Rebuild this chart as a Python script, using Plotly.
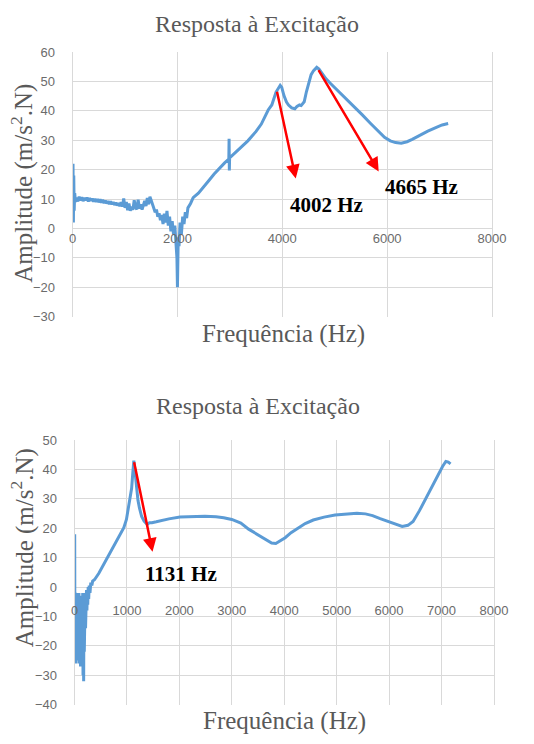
import plotly.graph_objects as go

# ---------------- data: top chart ----------------
freq_top = [0, 8, 15, 22, 30, 40, 55,
            75, 100, 125, 150, 175, 200, 225, 250, 275, 300, 325, 350, 375, 400,
            425, 450, 475, 500, 525, 550, 575, 600, 625, 650, 675, 700, 725, 750,
            775, 800, 825, 850, 875, 900, 925, 950, 975, 1000, 1025, 1050, 1075,
            1100, 1125, 1150, 1175, 1200, 1225, 1250, 1275, 1300, 1325, 1350, 1375,
            1400, 1425, 1450, 1475, 1500, 1525, 1550, 1575, 1600, 1625, 1650, 1675,
            1700, 1725, 1750, 1775, 1800, 1825, 1850, 1875, 1900, 1925, 1950, 1975,
            1990, 2000, 2005, 2015, 2030, 2050, 2075, 2100, 2125, 2150, 2175, 2200,
            2250, 2300, 2400, 2500, 2600, 2700, 2800, 2900, 2980, 2985, 2990, 2995,
            3100, 3200, 3343, 3500, 3600, 3731, 3800, 3881, 3960, 3990, 4030, 4080,
            4119, 4180, 4239, 4280, 4328, 4360, 4418, 4460, 4507, 4550, 4597, 4657,
            4700, 4746, 4830, 4925, 5080, 5224, 5380, 5522, 5680, 5821, 5950, 6060,
            6160, 6269, 6380, 6478, 6620, 6776, 6950, 7050, 7164]
amp_top = [3, 22, 2, 18, 6, 12, 9,
           10.5, 9.2, 10.8, 9.5, 10.6, 9.3, 10.4, 9.6, 10.5, 9.2, 10.3, 9.4, 10.2, 9.1,
           10.1, 9.0, 10.0, 8.9, 9.9, 8.8, 9.7, 8.6, 9.5, 8.5, 9.3, 8.3, 9.2, 8.2,
           9.0, 8.0, 8.8, 7.8, 8.6, 7.6, 8.9, 7.4, 10.2, 7.0, 9.0, 6.2, 8.5,
           6.0, 7.4, 6.3, 9.6, 7.2, 6.5, 9.8, 6.8, 8.2, 6.4, 8.0, 9.4,
           7.6, 10.4, 8.2, 10.8, 9.5, 8.0, 7.0, 5.5, 6.4, 4.0, 5.2, 2.8,
           4.6, 1.5, 5.0, 2.0, 6.0, 1.0, 4.0, -1.0, 2.5, -2.0, 1.0, -6.0,
           -10, -20, -12, -3, -6, 2, -2, 4, 1.5, 5.5, 3.5, 7.0,
           8.5, 10.5, 12.0, 14.0, 16.3, 18.5, 20.5, 22.3, 23.6, 30.5, 19.7, 24.0,
           25.7, 27.6, 29.8, 33.0, 35.5, 40.3, 42.0, 46.4, 48.7, 48.0, 45.3, 43.0,
           42.0, 41.0, 40.7, 41.5, 42.0, 41.8, 43.1, 46.5, 49.8, 52.3, 53.7, 54.8,
           54.2, 53.1, 51.0, 49.2, 46.5, 44.2, 41.3, 38.7, 35.8, 33.1, 31.0, 29.8,
           29.2, 29.0, 29.5, 30.3, 31.7, 33.1, 34.5, 35.2, 35.7]

# ---------------- data: bottom chart ----------------
freq_bot = [0, 3, 6, 10, 14, 18, 22, 26, 30, 35, 40, 45, 50, 55, 60, 66, 72, 78, 84,
            90, 96, 102, 108, 114, 120, 126, 132, 138, 144, 150, 156, 162, 168, 174,
            180, 186, 192, 198, 204, 210, 216, 222, 228, 236, 244, 252, 260, 270,
            280, 295, 310, 330, 345, 380, 464, 550, 643, 730, 821, 880, 940, 990,
            1030, 1060, 1089, 1110, 1131, 1150, 1179, 1210, 1238, 1280, 1327, 1387,
            1430, 1476, 1560, 1655, 1800, 2012, 2250, 2488, 2700, 2845, 3000, 3173,
            3321, 3482, 3661, 3760, 3839, 3920, 4018, 4130, 4256, 4400, 4554, 4760,
            4970, 5180, 5387, 5550, 5685, 5830, 5982, 6120, 6250, 6360, 6458, 6580,
            6696, 6820, 6935, 7020, 7083, 7130, 7173]
amp_bot = [0, 18, -8, -26, -2, -22, -4, -26, -3, -18, -2, -24, -3, -14, -2, -25, -3, -16, -2,
           -26, -4, -22, -3, -27, -4, -18, -3, -25, -3, -20, -2, -30, -3, -32,
           -4, -22, -3, -20, -2, -14, -2, -12, -1, -8, -1, -6, 0, -4,
           0.5, -2, 1.5, 0.5, 2.0, 2.5, 4.7, 7.5, 10.2, 13.0, 15.8, 18.0, 20.2, 23.0,
           26.9, 29.5, 33.6, 38.5, 43.0, 40.0, 34.7, 29.5, 26.9, 24.0, 22.4, 21.3,
           21.9, 21.9, 22.2, 22.7, 23.2, 23.8, 24.0, 24.1, 23.9, 23.6, 23.0, 21.8,
           19.7, 18.0, 16.1, 15.0, 14.8, 15.6, 16.8, 18.5, 20.0, 21.6, 22.8, 23.8,
           24.5, 24.9, 25.1, 24.9, 24.3, 23.3, 22.3, 21.2, 20.6, 21.0, 22.3, 26.0,
           30.1, 34.3, 38.0, 41.0, 42.7, 42.5, 41.9]

# peak labels and arrows (tail -> head), in data units
peaks_top = ["4002 Hz", "4665 Hz"]
arrow_tail_top = [(3893, 47), (4675, 54.4)]
arrow_head_top = [(4257, 17), (5839, 19.4)]
label_pos_top = [(4840, 8), (6650, 14)]

peaks_bot = ["1131 Hz"]
arrow_tail_bot = [(1131, 43)]
arrow_head_bot = [(1488, 12)]
label_pos_bot = [(2040, 4.3)]

title_text = "Resposta à Excitação"
xtitle = "Frequência (Hz)"
ytitle = "Amplitude (m/s<sup>2</sup>.N)"

xticks = [0, 2000, 4000, 6000, 8000]
xticks2 = [0, 1000, 2000, 3000, 4000, 5000, 6000, 7000, 8000]
yticks_top = [-30, -20, -10, 0, 10, 20, 30, 40, 50, 60]
yticks_bot = [-40, -30, -20, -10, 0, 10, 20, 30, 40, 50]

W, H = 534, 744
BLUE = "#5b9bd5"
GRID = "#d9d9d9"
TICKC = "#6b6b6b"
TXT = "#595959"
SERIF = "Liberation Serif"
SANS = "Liberation Sans"

def py(px):
    return 1 - px / H

fig = go.Figure()
fig.add_trace(go.Scatter(x=freq_top, y=amp_top, mode="lines",
                         line=dict(color=BLUE, width=3), xaxis="x", yaxis="y",
                         showlegend=False, hoverinfo="skip"))
fig.add_trace(go.Scatter(x=freq_bot, y=amp_bot, mode="lines",
                         line=dict(color=BLUE, width=3), xaxis="x2", yaxis="y2",
                         showlegend=False, hoverinfo="skip"))

tickfont = dict(family=SANS, size=13, color=TICKC)

xcommon = dict(range=[0, 8000], showgrid=True, gridcolor=GRID, gridwidth=1,
               zeroline=False, showline=False, tickfont=tickfont, ticks="",
               fixedrange=True)
ycommon = dict(showgrid=True, gridcolor=GRID, gridwidth=1, zeroline=True,
               zerolinecolor=GRID, zerolinewidth=1, showline=True, mirror=True,
               linecolor=GRID, linewidth=1, tickfont=tickfont, ticks="",
               ticklabelstandoff=14, fixedrange=True)

fig.update_layout(
    width=W, height=H, margin=dict(l=0, r=0, t=0, b=0),
    paper_bgcolor="white", plot_bgcolor="white",
    xaxis=dict(domain=[71 / W, 505 / W], anchor="free", position=py(227),
               tickvals=xticks, ticktext=[str(v) for v in xticks], **xcommon),
    yaxis=dict(domain=[py(316), py(46)], range=[-30, 60], tickvals=yticks_top,
               anchor="x", **ycommon),
    xaxis2=dict(domain=[73 / W, 507 / W], anchor="free", position=py(606),
                tickvals=xticks2, ticktext=[str(v) for v in xticks2], **xcommon),
    yaxis2=dict(domain=[py(712), py(442)], range=[-40, 50], tickvals=yticks_bot,
                anchor="x2", **ycommon),
)

ann = []

def txt(text, xpx, ypx, size, angle=0, color=TXT):
    ann.append(dict(text=text, x=xpx / W, y=py(ypx), xref="paper", yref="paper",
                    xanchor="center", yanchor="middle", textangle=angle,
                    showarrow=False, font=dict(family=SERIF, size=size, color=color)))

# titles
txt(title_text, 262, 17, 24)
txt(title_text, 263, 407, 24)
# x titles
txt(xtitle, 289, 334, 25)
txt(xtitle, 290, 729, 25)
# y titles
txt(ytitle, 19, 180, 25, angle=-90)
txt(ytitle, 20, 552, 25, angle=-90)

def add_arrows(tails, heads, labels, lpos, xr, yr):
    for (tx, ty), (hx, hy), lab, (lx, ly) in zip(tails, heads, labels, lpos):
        ann.append(dict(x=hx, y=hy, ax=tx, ay=ty, xref=xr, yref=yr, axref=xr, ayref=yr,
                        showarrow=True, arrowhead=2, arrowsize=1.1, arrowwidth=2.5,
                        arrowcolor="#ff0000", text=""))
        ann.append(dict(x=lx, y=ly, xref=xr, yref=yr, text="<b>" + lab + "</b>",
                        xanchor="center", yanchor="middle",
                        showarrow=False, font=dict(family=SERIF, size=21, color="#000000")))

add_arrows(arrow_tail_top, arrow_head_top, peaks_top, label_pos_top, "x", "y")
add_arrows(arrow_tail_bot, arrow_head_bot, peaks_bot, label_pos_bot, "x2", "y2")

fig.update_layout(annotations=ann)
fig.write_html("out.html")
